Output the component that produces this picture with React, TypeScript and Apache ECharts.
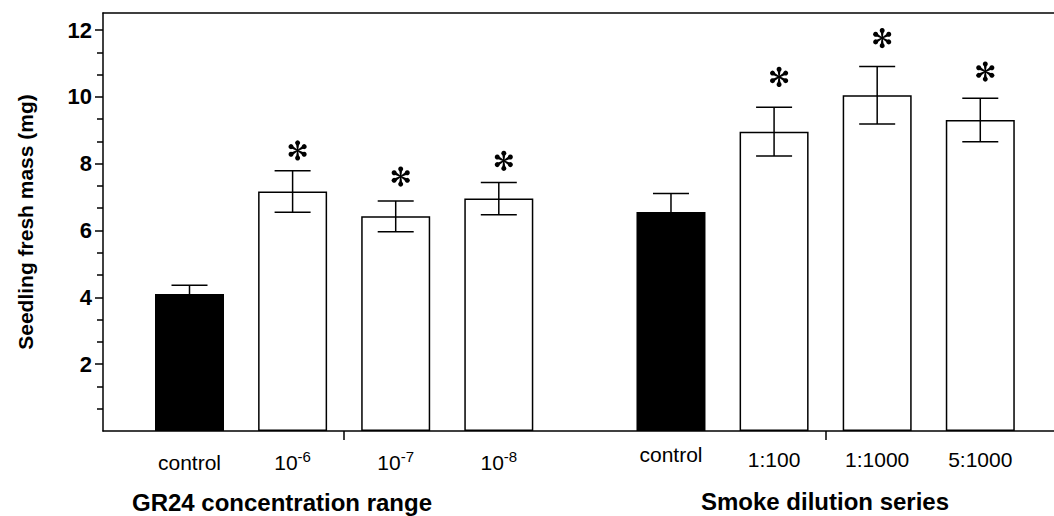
import React, { useEffect, useRef } from 'react';
import * as echarts from 'echarts';

// ---- data ----
const categories = ['control', '10^-6', '10^-7', '10^-8', 'control', '1:100', '1:1000', '5:1000'];
const xPositions = [1, 2, 3, 4, 5.67, 6.67, 7.67, 8.67];
const means = [4.10, 7.16, 6.42, 6.95, 6.55, 8.95, 10.04, 9.30];
const errors = [0.26, 0.62, 0.46, 0.48, 0.55, 0.73, 0.86, 0.65];
const isControl = [true, false, false, false, true, false, false, false];
const starLevels: (number | null)[] = [null, 8.39, 7.61, 8.08, null, 10.59, 11.75, 10.75];
const groupTitles = ['GR24 concentration range', 'Smoke dilution series'];
const yTickValues = [2, 4, 6, 8, 10, 12];

const FONT = "'Liberation Sans', Arial, Helvetica, sans-serif";
const X_MIN = 0.161;
const X_MAX = 9.385;
const Y_MAX_FRAME = 12.5;

const groupTickValues = [
  (xPositions[1] + xPositions[2]) / 2,
  (xPositions[5] + xPositions[6]) / 2,
];

function labelFor(i: number): string {
  const c = categories[i];
  if (c === undefined) return '';
  if (c.startsWith('10^')) {
    return `{a|10}{s|${c.slice(3)}}`;
  }
  if (c === 'control') return i < 4 ? `{a|${c}}` : `{u|${c}}`;
  return `{m|${c}}`;
}

function starShape(cx: number, cy: number) {
  const children: any[] = [];
  for (let k = 0; k < 6; k++) {
    const phi = (k * Math.PI) / 3;
    const dx = Math.sin(phi), dy = -Math.cos(phi);
    const px = Math.cos(phi), py = Math.sin(phi);
    children.push({
      type: 'polygon',
      shape: {
        points: [
          [cx + px * 0.6, cy + py * 0.6],
          [cx + dx * 6.8 + px * 1.5, cy + dy * 6.8 + py * 1.5],
          [cx + dx * 6.8 - px * 1.5, cy + dy * 6.8 - py * 1.5],
          [cx - px * 0.6, cy - py * 0.6],
        ],
      },
      style: { fill: '#000' },
    });
    children.push({
      type: 'circle',
      shape: { cx: cx + dx * 7.6, cy: cy + dy * 7.6, r: 2.5 },
      style: { fill: '#000' },
    });
  }
  return { type: 'group', children };
}

export default function App() {
  const ref = useRef<HTMLDivElement>(null);

  useEffect(() => {
    document.body.style.margin = '0';
    if (!ref.current) return;
    const chart = echarts.init(ref.current, undefined, { renderer: 'svg' });

    const barData = xPositions.map((x, i) => ({
      value: [x, means[i]],
      itemStyle: {
        color: isControl[i] ? '#000' : '#fff',
        borderColor: '#000',
        borderWidth: 1.5,
      },
    }));
    const errData = xPositions.map((x, i) => [x, means[i], errors[i]]);
    const starData = xPositions
      .map((x, i) => (starLevels[i] == null ? null : [x, starLevels[i] as number]))
      .filter((d) => d !== null) as number[][];

    const option: any = {
      animation: false,
      backgroundColor: '#fff',
      grid: [
        { left: 103, right: 0, top: 13, bottom: 85 },
        { left: 103, right: 0, top: 30, bottom: 85 },
      ],
      xAxis: [
        {
          gridIndex: 0,
          type: 'value',
          min: X_MIN,
          max: X_MAX,
          splitLine: { show: false },
          axisLine: { show: true, onZero: false, lineStyle: { color: '#000', width: 1.5 } },
          axisTick: {
            show: true,
            customValues: groupTickValues,
            length: 9,
            inside: false,
            lineStyle: { color: '#000', width: 1.5 },
          },
          axisLabel: {
            show: true,
            customValues: xPositions,
            margin: 18,
            color: '#000',
            fontFamily: FONT,
            fontSize: 21,
            formatter: (v: number) => {
              const i = xPositions.findIndex((p) => Math.abs(p - v) < 1e-6);
              return labelFor(i);
            },
            rich: {
              a: { fontSize: 21, lineHeight: 26, fontFamily: FONT, color: '#000' },
              u: { fontSize: 21, lineHeight: 10, fontFamily: FONT, color: '#000' },
              m: { fontSize: 21, lineHeight: 20, fontFamily: FONT, color: '#000' },
              s: { fontSize: 15, lineHeight: 8, verticalAlign: 'top', fontFamily: FONT, color: '#000' },
            },
          },
        },
        {
          gridIndex: 0,
          type: 'value',
          position: 'top',
          min: X_MIN,
          max: X_MAX,
          splitLine: { show: false },
          axisLine: { show: true, onZero: false, lineStyle: { color: '#000', width: 1.5 } },
          axisTick: { show: false },
          axisLabel: { show: false },
        },
        {
          gridIndex: 1,
          type: 'value',
          min: X_MIN,
          max: X_MAX,
          show: false,
        },
      ],
      yAxis: [
        {
          gridIndex: 0,
          type: 'value',
          min: 0,
          max: Y_MAX_FRAME,
          splitLine: { show: false },
          axisLine: { show: true, onZero: false, lineStyle: { color: '#000', width: 1.5 } },
          axisTick: { show: false },
          axisLabel: { show: false },
          name: 'Seedling fresh mass (mg)',
          nameLocation: 'middle',
          nameGap: 67,
          nameTextStyle: { fontFamily: FONT, fontSize: 21, fontWeight: 'bold', color: '#000' },
        },
        {
          gridIndex: 1,
          type: 'value',
          min: 0,
          max: 12,
          interval: 2,
          splitLine: { show: false },
          axisLine: { show: false },
          axisTick: {
            show: true,
            customValues: yTickValues,
            length: 8,
            lineStyle: { color: '#000', width: 1.5 },
          },
          minorTick: {
            show: true,
            splitNumber: 3,
            length: 6,
            lineStyle: { color: '#000', width: 1.5 },
          },
          minorSplitLine: { show: false },
          axisLabel: {
            show: true,
            customValues: yTickValues,
            margin: 11,
            color: '#000',
            fontFamily: FONT,
            fontSize: 22,
            fontWeight: 'bold',
          },
        },
      ],
      series: [
        {
          type: 'bar',
          xAxisIndex: 0,
          yAxisIndex: 0,
          barWidth: 69,
          data: barData,
          z: 2,
        },
        {
          type: 'custom',
          xAxisIndex: 0,
          yAxisIndex: 0,
          z: 3,
          data: errData,
          renderItem: (_p: any, api: any) => {
            const x = api.value(0);
            const y = api.value(1);
            const e = api.value(2);
            const top = api.coord([x, y + e]);
            const bot = api.coord([x, y - e]);
            const hw = 18;
            const ls = { stroke: '#000', lineWidth: 1.5 };
            return {
              type: 'group',
              children: [
                { type: 'line', shape: { x1: top[0], y1: top[1], x2: bot[0], y2: bot[1] }, style: ls },
                { type: 'line', shape: { x1: top[0] - hw, y1: top[1], x2: top[0] + hw, y2: top[1] }, style: ls },
                { type: 'line', shape: { x1: bot[0] - hw, y1: bot[1], x2: bot[0] + hw, y2: bot[1] }, style: ls },
              ],
            };
          },
        },
        {
          type: 'custom',
          xAxisIndex: 0,
          yAxisIndex: 0,
          z: 4,
          data: starData,
          renderItem: (_p: any, api: any) => {
            const pt = api.coord([api.value(0), api.value(1)]);
            return starShape(pt[0] + 5, pt[1]);
          },
        },
      ],
      graphic: [
        {
          type: 'text',
          x: 282,
          y: 502,
          style: {
            text: groupTitles[0],
            fontFamily: FONT,
            fontSize: 24,
            fontWeight: 'bold',
            fill: '#000',
            textAlign: 'center',
            textVerticalAlign: 'middle',
          },
        },
        {
          type: 'text',
          x: 825,
          y: 501,
          style: {
            text: groupTitles[1],
            fontFamily: FONT,
            fontSize: 24,
            fontWeight: 'bold',
            fill: '#000',
            textAlign: 'center',
            textVerticalAlign: 'middle',
          },
        },
      ],
    };

    chart.setOption(option);
    return () => chart.dispose();
  }, []);

  return <div ref={ref} style={{ width: 1054, height: 516 }} />;
}
